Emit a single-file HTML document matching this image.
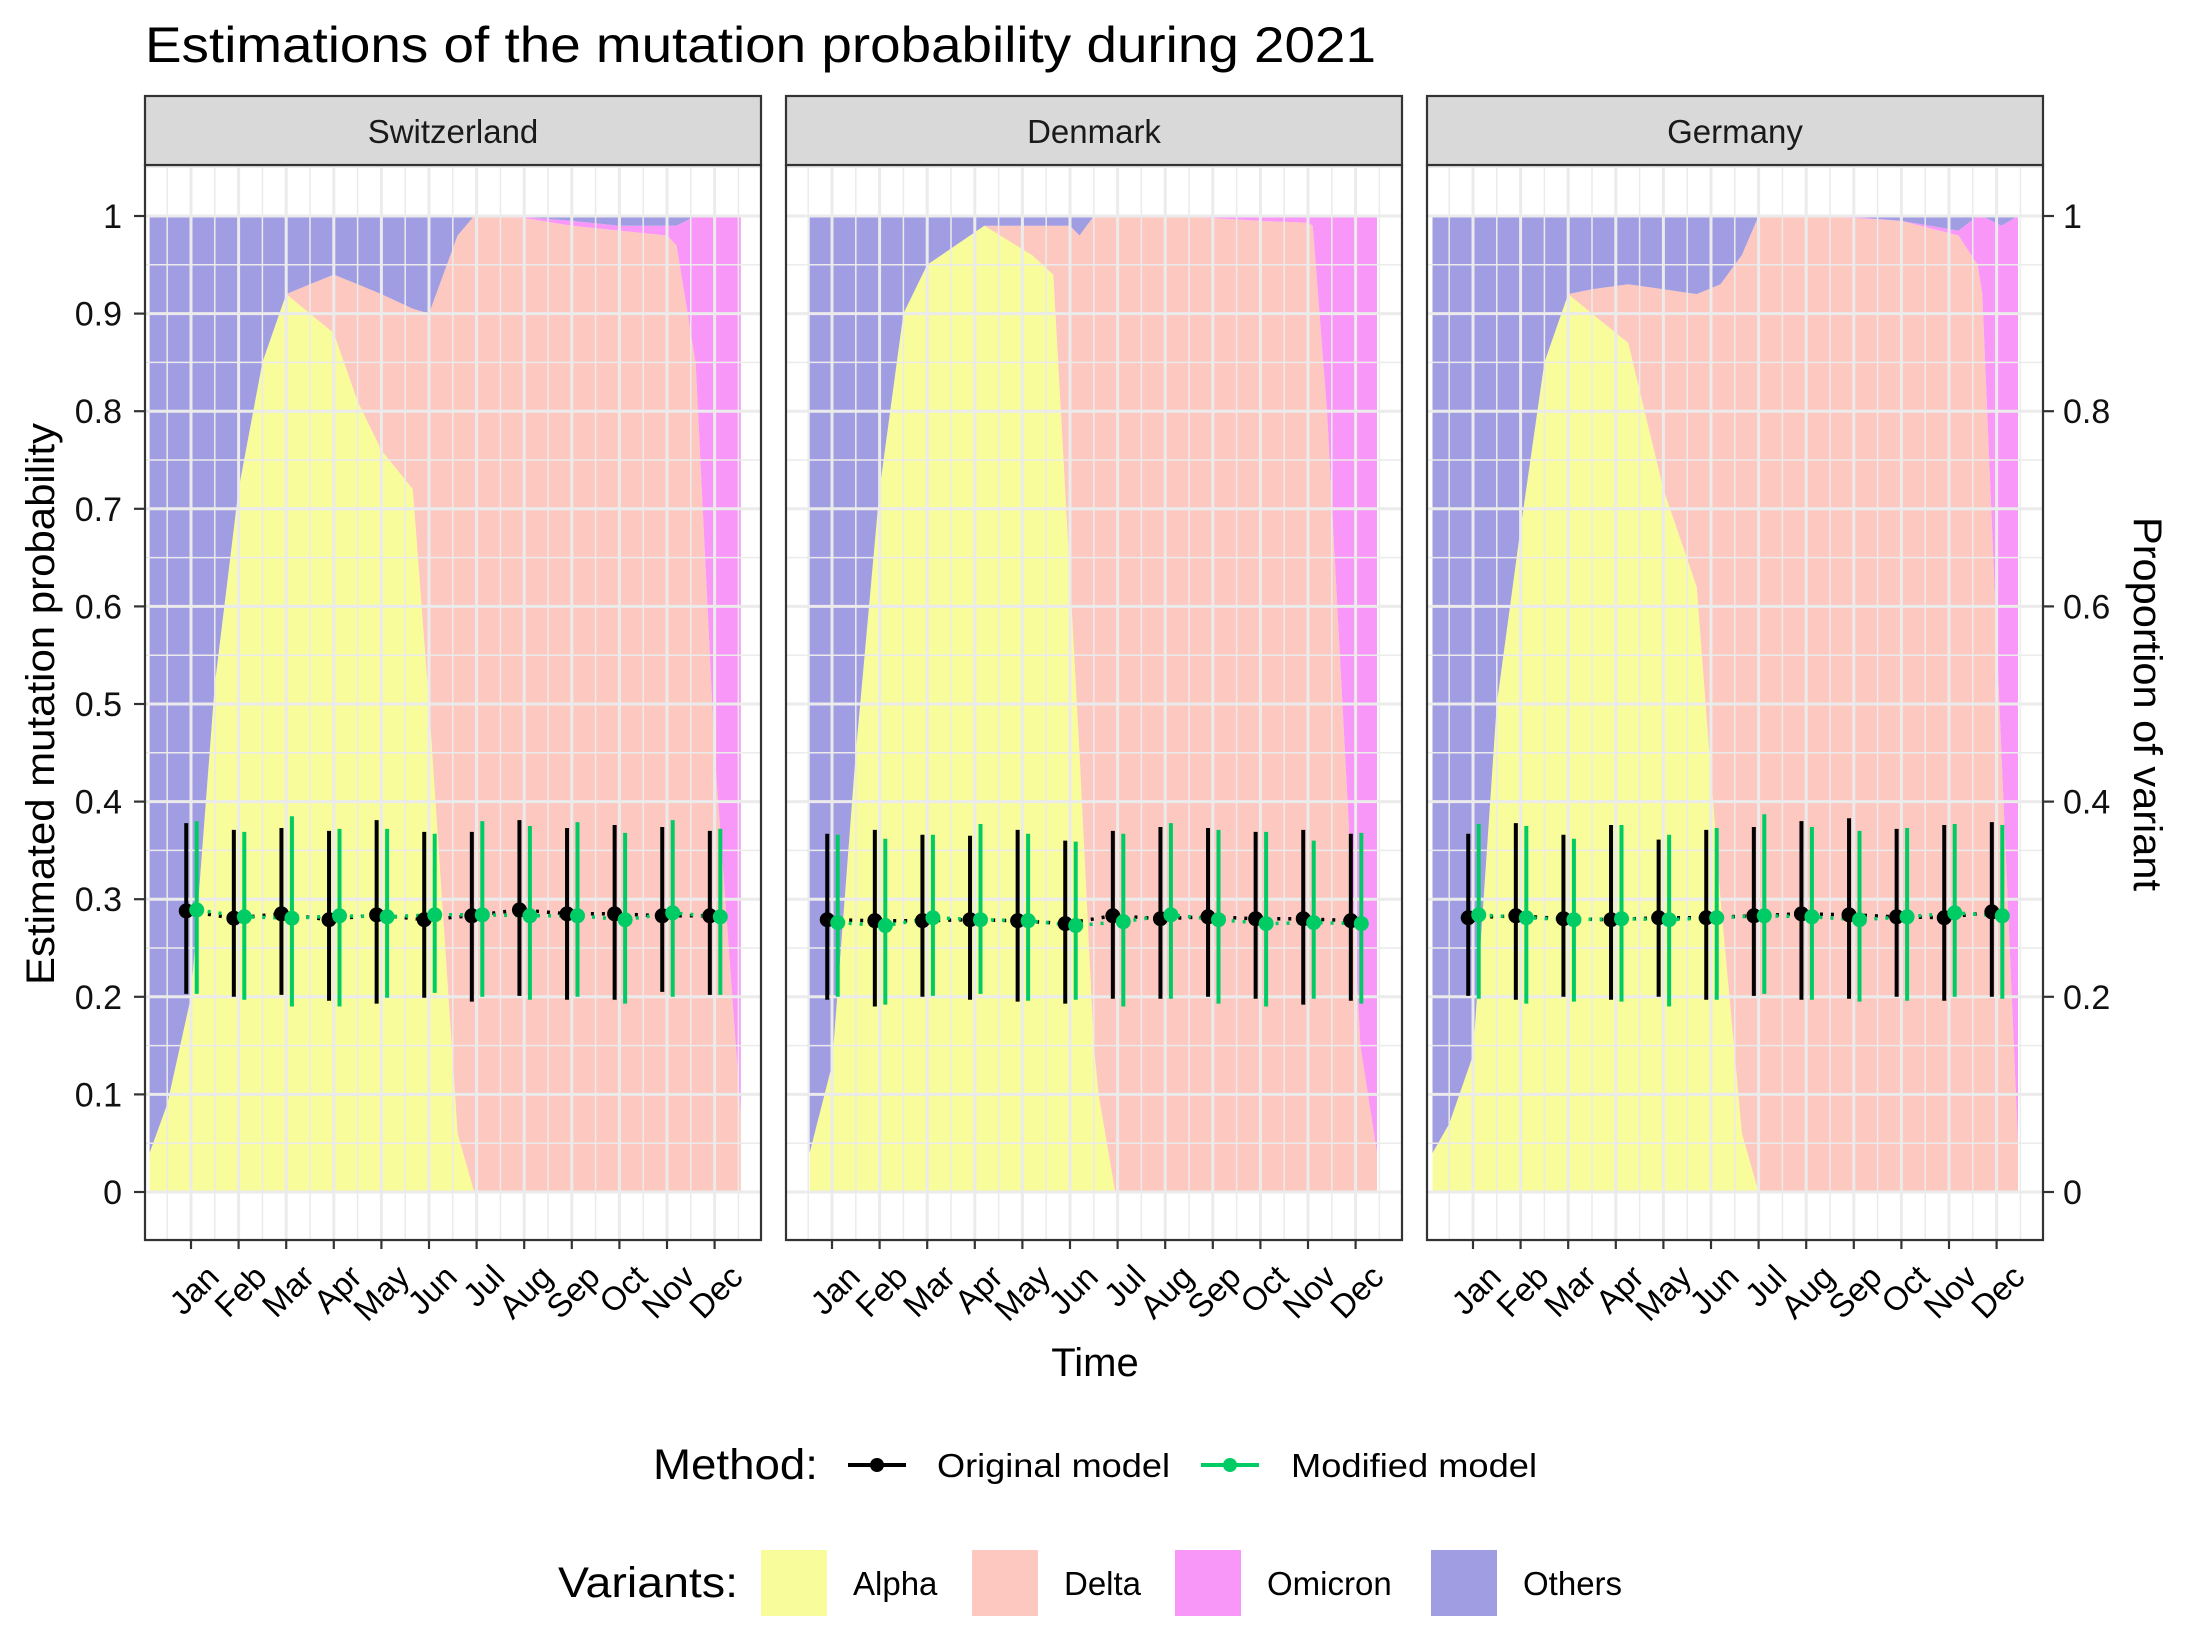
<!DOCTYPE html>
<html><head><meta charset="utf-8">
<style>
html,body{margin:0;padding:0;background:#fff;}
svg{display:block;font-family:"Liberation Sans",Arial,sans-serif;}
</style></head>
<body>
<svg id="chart" width="2190" height="1642" viewBox="0 0 2190 1642" xmlns="http://www.w3.org/2000/svg">
<rect width="2190" height="1642" fill="#fff"/>
<text x="145" y="62" font-size="50" fill="#000" textLength="1231" lengthAdjust="spacingAndGlyphs">Estimations of the mutation probability during 2021</text>
<text transform="translate(54,704) rotate(-90)" text-anchor="middle" font-size="40" fill="#000" textLength="562" lengthAdjust="spacingAndGlyphs">Estimated mutation probability</text>
<text transform="translate(2134,704) rotate(90)" text-anchor="middle" font-size="40" fill="#000" textLength="374" lengthAdjust="spacingAndGlyphs">Proportion of variant</text>
<text x="1095" y="1376" text-anchor="middle" font-size="40" fill="#000">Time</text>
<g id="legend">
<text x="653" y="1479" font-size="43" fill="#000" textLength="165" lengthAdjust="spacingAndGlyphs">Method:</text>
<g>
<line x1="848" y1="1465" x2="906" y2="1465" stroke="#000" stroke-width="4"/>
<circle cx="877" cy="1465" r="7" fill="#000"/>
<text x="937" y="1477" font-size="33" fill="#000" textLength="233" lengthAdjust="spacingAndGlyphs">Original model</text>
</g>
<g>
<line x1="1201" y1="1465" x2="1259" y2="1465" stroke="#00CC66" stroke-width="4"/>
<circle cx="1230" cy="1465" r="7" fill="#00CC66"/>
<text x="1291" y="1477" font-size="33" fill="#000" textLength="246" lengthAdjust="spacingAndGlyphs">Modified model</text>
</g>
<text x="558" y="1597" font-size="43" fill="#000" textLength="180" lengthAdjust="spacingAndGlyphs">Variants:</text>
<g>
<rect x="761" y="1550" width="66" height="66" fill="#f8fc9b"/>
<text x="853" y="1595" font-size="33" fill="#000">Alpha</text>
</g>
<g>
<rect x="972" y="1550" width="66" height="66" fill="#fdc8c0"/>
<text x="1064" y="1595" font-size="33" fill="#000">Delta</text>
</g>
<g>
<rect x="1175" y="1550" width="66" height="66" fill="#f997f9"/>
<text x="1267" y="1595" font-size="33" fill="#000">Omicron</text>
</g>
<g>
<rect x="1431" y="1550" width="66" height="66" fill="#a09de2"/>
<text x="1523" y="1595" font-size="33" fill="#000">Others</text>
</g>
</g>
</svg>
<script>
// ---- data ----
const countries = ["Switzerland", "Denmark", "Germany"];
const monthLabels = ["Jan","Feb","Mar","Apr","May","Jun","Jul","Aug","Sep","Oct","Nov","Dec"];
const yTickLabels = ["0","0.1","0.2","0.3","0.4","0.5","0.6","0.7","0.8","0.9","1"];
const yTickValues = [0,0.1,0.2,0.3,0.4,0.5,0.6,0.7,0.8,0.9,1];
const y2TickLabels = ["0","0.2","0.4","0.6","0.8","1"];
const y2TickValues = [0,0.2,0.4,0.6,0.8,1];

// variant proportions (time in months, Jan = 0)
const chTime = [-0.87,-0.5,0,0.5,1,1.5,2,2.5,3,3.5,4,4.66,5,5.6,5.95,6.5,7,8,9,10,10.2,10.6,11,11.55];
const chAlpha = [.04,.09,.20,.52,.72,.85,.92,.90,.88,.81,.76,.72,.50,.06,0,0,0,0,0,0,0,0,0,0];
const chDelta = [0,0,0,0,0,0,0,.03,.06,.12,.16,.185,.40,.92,1,1,.998,.99,.985,.98,.97,.85,.45,.08];
const chOmicron = [0,0,0,0,0,0,0,0,0,0,0,0,0,0,0,0,.001,.005,.005,.01,.02,.15,.55,.92];
const chOthers = [.96,.91,.80,.48,.28,.15,.08,.07,.06,.07,.08,.095,.10,.02,0,0,.001,.005,.01,.01,.01,0,0,0];

const dkTime = [-0.47,0,0.5,1,1.5,2,3.2,4.2,4.65,5,5.2,5.5,5.6,5.95,7,8,9,10,10.1,10.4,11.1,11.45];
const dkAlpha = [.04,.13,.45,.72,.90,.95,.99,.96,.94,.63,.45,.15,.1,0,0,0,0,0,0,0,0,0];
const dkDelta = [0,0,0,0,0,0,0,.03,.05,.36,.53,.85,.9,1,1,.998,.995,.993,.99,.8,.15,.04];
const dkOmicron = [0,0,0,0,0,0,0,0,0,0,0,0,0,0,0,.002,.005,.007,.01,.2,.85,.96];
const dkOthers = [.96,.87,.55,.28,.10,.05,.01,.01,.01,.01,.02,0,0,0,0,0,0,0,0,0,0,0];

const deTime = [-0.85,-0.5,0,0.5,1,1.5,2,2.5,3.26,4,4.7,5.2,5.65,6,7,8,9,10.2,10.6,10.7,11.1,11.45];
const deAlpha = [.04,.07,.14,.5,.68,.85,.92,.90,.87,.72,.62,.30,.06,0,0,0,0,0,0,0,0,0];
const deDelta = [0,0,0,0,0,0,0,.025,.06,.205,.30,.63,.90,1,1,.998,.995,.98,.95,.92,.45,.05];
const deOmicron = [0,0,0,0,0,0,0,0,0,0,0,0,0,0,0,.001,0,.005,.05,.08,.54,.95];
const deOthers = [.96,.93,.86,.5,.32,.15,.08,.075,.07,.075,.08,.07,.04,0,0,.001,.005,.015,0,0,.01,0];

// monthly estimates
const chOrigEst = [.288,.2805,.285,.279,.284,.279,.283,.289,.285,.285,.283,.283];
const chOrigHi = [.378,.371,.373,.370,.381,.369,.369,.381,.373,.376,.374,.370];
const chOrigLo = [.203,.200,.202,.196,.193,.199,.195,.201,.197,.197,.205,.202];
const chModEst = [.289,.282,.2805,.283,.282,.284,.284,.283,.283,.279,.286,.282];
const chModHi = [.380,.369,.385,.372,.372,.367,.380,.375,.379,.368,.381,.372];
const chModLo = [.203,.197,.190,.190,.199,.204,.200,.197,.200,.193,.200,.202];

const dkOrigEst = [.279,.278,.278,.279,.278,.275,.283,.280,.282,.280,.280,.278];
const dkOrigHi = [.367,.371,.366,.365,.371,.360,.370,.374,.373,.369,.371,.367];
const dkOrigLo = [.197,.190,.200,.197,.195,.193,.198,.198,.200,.198,.192,.196];
const dkModEst = [.276,.273,.281,.279,.278,.273,.277,.284,.279,.275,.276,.275];
const dkModHi = [.366,.362,.366,.377,.367,.359,.367,.378,.371,.369,.360,.368];
const dkModLo = [.200,.192,.201,.203,.196,.197,.190,.198,.193,.190,.198,.193];

const deOrigEst = [.281,.283,.280,.279,.281,.281,.283,.285,.284,.282,.281,.287];
const deOrigHi = [.367,.378,.366,.376,.361,.371,.374,.380,.383,.372,.376,.379];
const deOrigLo = [.201,.197,.200,.197,.200,.197,.201,.197,.198,.200,.196,.200];
const deModEst = [.284,.281,.279,.280,.279,.281,.283,.282,.279,.282,.286,.283];
const deModHi = [.377,.375,.362,.376,.366,.373,.387,.374,.370,.373,.377,.376];
const deModLo = [.198,.193,.195,.195,.190,.197,.203,.197,.195,.196,.200,.198];

const panelData = [
  {time:chTime, alpha:chAlpha, delta:chDelta, omicron:chOmicron, others:chOthers,
   oe:chOrigEst, oh:chOrigHi, ol:chOrigLo, me:chModEst, mh:chModHi, ml:chModLo},
  {time:dkTime, alpha:dkAlpha, delta:dkDelta, omicron:dkOmicron, others:dkOthers,
   oe:dkOrigEst, oh:dkOrigHi, ol:dkOrigLo, me:dkModEst, mh:dkModHi, ml:dkModLo},
  {time:deTime, alpha:deAlpha, delta:deDelta, omicron:deOmicron, others:deOthers,
   oe:deOrigEst, oh:deOrigHi, ol:deOrigLo, me:deModEst, mh:deModHi, ml:deModLo}
];

// ---- layout ----
const NS = "http://www.w3.org/2000/svg";
const svg = document.getElementById("chart");
const legendEl = document.getElementById("legend");
const panelLeft = [145, 786, 1427];
const panelW = 616, panelTop = 165, panelBottom = 1240, stripTop = 96;
const monthStep = 47.6, janOffset = 46;
function xScale(p, t){ return panelLeft[p] + janOffset + t * monthStep; }
function yScale(v){ return 1192 - v * 976; }
function mk(tag, attrs, parent){
  const e = document.createElementNS(NS, tag);
  for (const k in attrs) e.setAttribute(k, attrs[k]);
  if (parent) parent.appendChild(e); else svg.insertBefore(e, legendEl);
  return e;
}
const colors = {alpha:"#f8fc9b", delta:"#fdc8c0", omicron:"#f997f9", others:"#a09de2"};
const order = ["alpha","delta","omicron","others"];

for (let p = 0; p < 3; p++) {
  const L = panelLeft[p], d = panelData[p];
  const g = mk("g", {});
  
  
  const bg = mk("rect", {x:L, y:panelTop, width:panelW, height:panelBottom-panelTop, fill:"#fff"}, g);
  
  
  let base = d.time.map(() => 0);
  order.forEach(key => {
    const vals = d[key];
    const top = base.map((b, i) => b + vals[i]);
    let pts = [];
    for (let i = 0; i < d.time.length; i++) pts.push(xScale(p, d.time[i]).toFixed(1) + "," + yScale(top[i]).toFixed(1));
    for (let i = d.time.length - 1; i >= 0; i--) pts.push(xScale(p, d.time[i]).toFixed(1) + "," + yScale(base[i]).toFixed(1));
    const poly = mk("polygon", {points: pts.join(" "), fill: colors[key]}, g);
    
    
    base = top;
  });
  for (let k = -1; k <= 21; k++) {
    const v = k * 0.05;
    const major = (k % 2 === 0);
    const ln = mk("line", {x1:L, x2:L+panelW, y1:yScale(v), y2:yScale(v), stroke:"#ebebeb", "stroke-width": major ? 3 : 1.5}, g);
    
    
  }
  for (let k = -1; k <= 23; k++) {
    const t = k * 0.5;
    const major = (k % 2 === 0);
    const ln = mk("line", {x1:xScale(p,t), x2:xScale(p,t), y1:panelTop, y2:panelBottom, stroke:"#ebebeb", "stroke-width": major ? 3 : 1.5}, g);
    
    
  }
  const series = [
    {est:d.oe, hi:d.oh, lo:d.ol, col:"#000000", off:-0.1, name:"original"},
    {est:d.me, hi:d.mh, lo:d.ml, col:"#00CC66", off:0.12, name:"modified"}
  ];
  series.forEach(s => {
    const pts = s.est.map((v, i) => xScale(p, i + s.off).toFixed(1) + "," + yScale(v).toFixed(1)).join(" ");
    const pl = mk("polyline", {points:pts, fill:"none", stroke:s.col, "stroke-width":3.5, "stroke-dasharray":"3 8"}, g);
    
    
  });
  series.forEach(s => {
    s.est.forEach((v, i) => {
      const x = xScale(p, i + s.off);
      const eb = mk("line", {x1:x, x2:x, y1:yScale(s.hi[i]), y2:yScale(s.lo[i]), stroke:s.col, "stroke-width":4}, g);
      
      
      const c = mk("circle", {cx:x, cy:yScale(v), r:7.5, fill:s.col}, g);
      
      
    });
  });
  const br = mk("rect", {x:L, y:panelTop, width:panelW, height:panelBottom-panelTop, fill:"none", stroke:"#333", "stroke-width":2.2}, g);
  
  
  const st = mk("rect", {x:L, y:stripTop, width:panelW, height:panelTop-stripTop, fill:"#d9d9d9", stroke:"#333", "stroke-width":2.2}, g);
  
  
  const stt = mk("text", {x:L+panelW/2, y:143, "text-anchor":"middle", "font-size":33, fill:"#1a1a1a"}, g);
  stt.textContent = countries[p];
  
  
  monthLabels.forEach((m, i) => {
    const x = xScale(p, i);
    const tk = mk("line", {x1:x, x2:x, y1:panelBottom, y2:panelBottom+9, stroke:"#333", "stroke-width":2.2}, g);
    
    
    const lb = mk("text", {transform:"translate(" + (x + 13) + "," + (panelBottom + 22) + ") rotate(-45)", "text-anchor":"end", "dominant-baseline":"hanging", "font-size":33, fill:"#000"}, g);
    lb.textContent = m;
    
    
  });
}
yTickValues.forEach((v, i) => {
  const y = yScale(v);
  const tk = mk("line", {x1:134, x2:145, y1:y, y2:y, stroke:"#333", "stroke-width":2.2});
  
  
  const lb = mk("text", {x:122, y:y + 12, "text-anchor":"end", "font-size":34, fill:"#111"});
  lb.textContent = yTickLabels[i];
  
  
});
const rightEdge = panelLeft[2] + panelW;
y2TickValues.forEach((v, i) => {
  const y = yScale(v);
  const tk = mk("line", {x1:rightEdge, x2:rightEdge + 11, y1:y, y2:y, stroke:"#333", "stroke-width":2.2});
  
  
  const lb = mk("text", {x:rightEdge + 20, y:y + 12, "text-anchor":"start", "font-size":34, fill:"#111"});
  lb.textContent = y2TickLabels[i];
  
  
});
</script>
</body></html>
